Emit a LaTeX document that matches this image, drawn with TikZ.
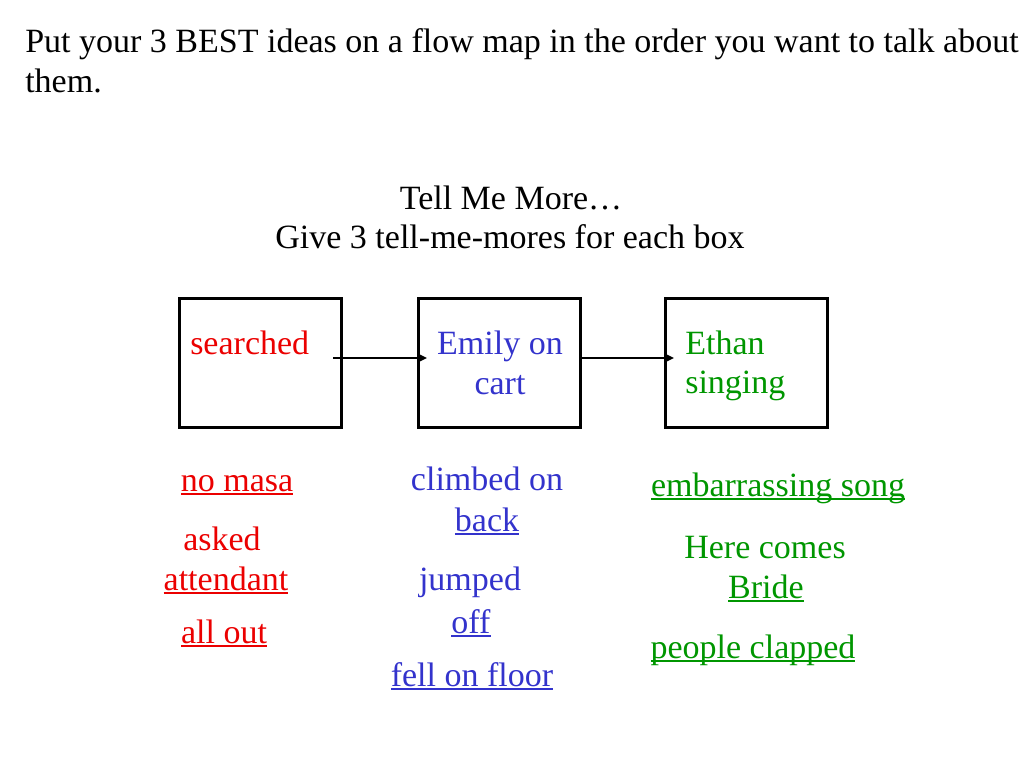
\documentclass[tikz,border=0pt]{standalone}
\usepackage{fontspec}
\setmainfont{Liberation Serif}
\usetikzlibrary{arrows.meta}
\definecolor{cred}{RGB}{235,0,0}
\definecolor{cblue}{RGB}{51,51,204}
\definecolor{cgreen}{RGB}{0,150,0}
\newcommand\myul[1]{\setbox0\hbox{#1}\rlap{\rule[-3pt]{\wd0}{1.2pt}}\box0}
\begin{document}
\begin{tikzpicture}[x=0.75pt,y=-0.75pt,
  txt/.style={inner sep=0pt,font=\fontsize{25.5}{30}\selectfont},
  box/.style={draw,line width=2.25pt,minimum width=121.5pt,minimum height=96.75pt,inner sep=0pt},
  flow/.style={line width=1.3pt,-{Triangle[length=7pt,width=6.5pt]}}]
\useasboundingbox (0,0) rectangle (1024,768);
% title
\node[txt,anchor=base west] (t1) at (25,52) {Put your 3 BEST ideas on a flow map in the order you want to talk about};
\node[txt,anchor=base west] (t2) at (25,92) {them.};
\node[txt,anchor=base] (h1) at (511,209) {Tell Me More…};
\node[txt,anchor=base] (h2) at (510,248) {Give 3 tell-me-mores for each box};
% boxes
\node[box] (b1) at (260,362.5) {};
\node[box] (b2) at (499,362.5) {};
\node[box] (b3) at (746.5,362.5) {};
\node[txt,anchor=base west,text=cred] (s1) at (190,354) {searched};
\node[txt,anchor=base,text=cblue] (e1) at (500,354) {Emily on};
\node[txt,anchor=base,text=cblue] (e2) at (500,394) {cart};
\node[txt,anchor=base west,text=cgreen] (g1) at (685,354) {Ethan};
\node[txt,anchor=base west,text=cgreen] (g2) at (685,393) {singing};
% arrows
\coordinate (a1s) at (333,358);
\coordinate (a1e) at (427,358);
\coordinate (a2s) at (580,358);
\coordinate (a2e) at (674,358);
\draw[flow] (a1s) -- (a1e);
\draw[flow] (a2s) -- (a2e);
% red column
\node[txt,anchor=base,text=cred] (r1) at (237,491) {\myul{no masa}};
\node[txt,anchor=base,text=cred] (r2) at (222,550) {asked};
\node[txt,anchor=base,text=cred] (r3) at (226,590) {\myul{attendant}};
\node[txt,anchor=base,text=cred] (r4) at (224,643) {\myul{all out}};
% blue column
\node[txt,anchor=base,text=cblue] (u1) at (487,490) {climbed on};
\node[txt,anchor=base,text=cblue] (u2) at (487,531) {\myul{back}};
\node[txt,anchor=base,text=cblue] (u3) at (470,590) {jumped};
\node[txt,anchor=base,text=cblue] (u4) at (471,633) {\myul{off}};
\node[txt,anchor=base,text=cblue] (u5) at (472,686) {\myul{fell on floor}};
% green column
\node[txt,anchor=base,text=cgreen] (v1) at (778,496) {\myul{embarrassing song}};
\node[txt,anchor=base,text=cgreen] (v2) at (765,558) {Here comes};
\node[txt,anchor=base,text=cgreen] (v3) at (766,598) {\myul{Bride}};
\node[txt,anchor=base,text=cgreen] (v4) at (753,658) {\myul{people clapped}};
\end{tikzpicture}
\end{document}
